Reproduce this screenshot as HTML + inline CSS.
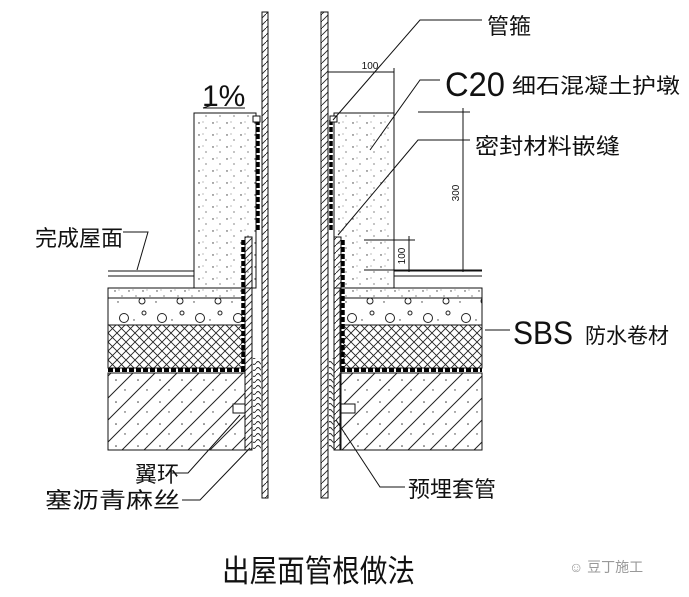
<!DOCTYPE html>
<html><head><meta charset="utf-8"><style>
html,body{margin:0;padding:0;background:#fff;}
svg{display:block;}
text{font-family:"Liberation Sans","Noto Sans CJK SC",sans-serif;fill:#111;}
</style></head><body>
<svg width="689" height="597" viewBox="0 0 689 597" xmlns="http://www.w3.org/2000/svg">
<defs>
<pattern id="diag" width="22" height="22" patternUnits="userSpaceOnUse">
<path d="M-2,24 L24,-2" stroke="#222" stroke-width="1"/>
<path d="M-13,13 L13,-13 M9,35 L35,9" stroke="#222" stroke-width="1"/>
<circle cx="6" cy="6" r="0.8" fill="#333"/><circle cx="15" cy="16" r="0.7" fill="#333"/>
</pattern>
<pattern id="cross" width="9" height="9" patternUnits="userSpaceOnUse">
<path d="M0,0 L9,9 M9,0 L0,9" stroke="#222" stroke-width="0.9"/>
</pattern>
<pattern id="pipe" width="7" height="7" patternUnits="userSpaceOnUse">
<path d="M0,7 L7,0" stroke="#222" stroke-width="0.9"/>
</pattern>
<pattern id="dots" width="14" height="12" patternUnits="userSpaceOnUse">
<circle cx="3" cy="3" r="0.7" fill="#333"/><circle cx="10" cy="8" r="0.6" fill="#333"/><circle cx="7" cy="2" r="0.5" fill="#555"/>
</pattern>
<pattern id="pebble" width="38" height="28" patternUnits="userSpaceOnUse">
<circle cx="10" cy="10" r="4.5" fill="none" stroke="#222"/><circle cx="28" cy="21" r="3" fill="none" stroke="#222"/><circle cx="30" cy="5" r="2" fill="none" stroke="#222"/>
<circle cx="20" cy="12" r="0.7" fill="#333"/><circle cx="4" cy="22" r="0.7" fill="#333"/>
</pattern>
<pattern id="hemp" width="8" height="6" patternUnits="userSpaceOnUse">
<path d="M0,3 Q2,0 4,3 T8,3" fill="none" stroke="#222" stroke-width="0.9"/>
</pattern>
</defs>
<g stroke="#111" stroke-width="1" fill="none">
<rect x="108" y="288" width="137" height="10" fill="url(#dots)"/>
<rect x="108" y="298" width="137" height="27" fill="url(#pebble)"/>
<rect x="108" y="325" width="137" height="43" fill="url(#cross)"/>
<rect x="108" y="373" width="137" height="77" fill="url(#diag)"/>
<line x1="108" y1="370" x2="245" y2="370" stroke="#000" stroke-width="4" stroke-dasharray="5,2"/>
<rect x="340" y="288" width="142" height="10" fill="url(#dots)"/>
<rect x="340" y="298" width="142" height="27" fill="url(#pebble)"/>
<rect x="340" y="325" width="142" height="43" fill="url(#cross)"/>
<rect x="340" y="373" width="142" height="77" fill="url(#diag)"/>
<line x1="340" y1="370" x2="482" y2="370" stroke="#000" stroke-width="4" stroke-dasharray="5,2"/>
<rect x="194" y="113" width="62" height="175" fill="url(#dots)"/>
<rect x="334" y="113" width="60" height="175" fill="url(#dots)"/>
<line x1="108" y1="271" x2="194" y2="271"/><line x1="108" y1="276" x2="194" y2="276"/>
<line x1="394" y1="271" x2="482" y2="271"/><line x1="394" y1="276" x2="482" y2="276"/>
<rect x="245" y="237" width="7" height="213" fill="url(#pipe)"/>
<rect x="334" y="237" width="7" height="213" fill="url(#pipe)"/>
<rect x="253" y="358" width="8" height="92" fill="url(#hemp)" stroke="none"/>
<rect x="329" y="358" width="5" height="92" fill="url(#hemp)" stroke="none"/>
<rect x="233" y="404" width="12" height="9" fill="#fff"/>
<rect x="341" y="404" width="14" height="9" fill="#fff"/>
<rect x="262" y="12" width="6" height="486" fill="url(#pipe)"/>
<rect x="321" y="12" width="7" height="486" fill="url(#pipe)"/>
<line x1="258" y1="120" x2="258" y2="232" stroke="#000" stroke-width="3.5" stroke-dasharray="5,2"/>
<line x1="331" y1="120" x2="331" y2="232" stroke="#000" stroke-width="3.5" stroke-dasharray="5,2"/>
<line x1="243" y1="240" x2="243" y2="368" stroke="#000" stroke-width="3.5" stroke-dasharray="5,2"/>
<line x1="343" y1="240" x2="343" y2="368" stroke="#000" stroke-width="3.5" stroke-dasharray="5,2"/>
<rect x="253" y="116" width="7" height="6" fill="#fff"/>
<rect x="330" y="116" width="7" height="6" fill="#fff"/>
<path d="M203,108 L245,108 M203,108 L212,105"/>
<line x1="328" y1="72" x2="394" y2="72"/><line x1="394" y1="68" x2="394" y2="113"/>
<line x1="418" y1="112" x2="470" y2="112"/><line x1="463" y1="108" x2="463" y2="272"/>
<line x1="364" y1="240" x2="415" y2="240"/><line x1="409" y1="236" x2="409" y2="272"/>
<line x1="364" y1="270" x2="482" y2="270"/>
<path d="M482,20 L420,20 L333,120"/>
<path d="M440,80 L420,80 L370,150"/>
<path d="M470,140 L418,140 L338,235"/>
<path d="M510,330 L485,330"/>
<path d="M405,487 L380,487 L336,420"/>
<path d="M123,232 L148,232 L137,270"/>
<path d="M172,473 L188,473 L240,415"/>
<path d="M182,500 L200,500 L250,448"/>
</g>
<text x="370" y="69" font-size="10" text-anchor="middle">100</text>
<text x="202" y="106" font-size="30">1%</text>
<text transform="translate(459,193) rotate(-90)" font-size="10" text-anchor="middle">300</text>
<text transform="translate(405,256) rotate(-90)" font-size="10" text-anchor="middle">100</text>
<text x="487" y="34" font-size="22">管箍</text>
<text x="445" y="96" font-size="34" textLength="60" lengthAdjust="spacingAndGlyphs">C20</text>
<text x="512" y="93" font-size="21" textLength="168" lengthAdjust="spacingAndGlyphs">细石混凝土护墩</text>
<text x="475" y="154" font-size="22" textLength="145" lengthAdjust="spacingAndGlyphs">密封材料嵌缝</text>
<text x="513" y="344" font-size="32" textLength="60" lengthAdjust="spacingAndGlyphs">SBS</text>
<text x="585" y="343" font-size="21">防水卷材</text>
<text x="408" y="497" font-size="22">预埋套管</text>
<text x="35" y="246" font-size="22">完成屋面</text>
<text x="135" y="482" font-size="22">翼环</text>
<text x="45" y="508" font-size="22" textLength="135" lengthAdjust="spacingAndGlyphs">塞沥青麻丝</text>
<text x="222" y="582" font-size="31" textLength="193" lengthAdjust="spacingAndGlyphs">出屋面管根做法</text>
<text x="569" y="572" font-size="14" style="fill:#999">☺ 豆丁施工</text>
</svg>
</body></html>
